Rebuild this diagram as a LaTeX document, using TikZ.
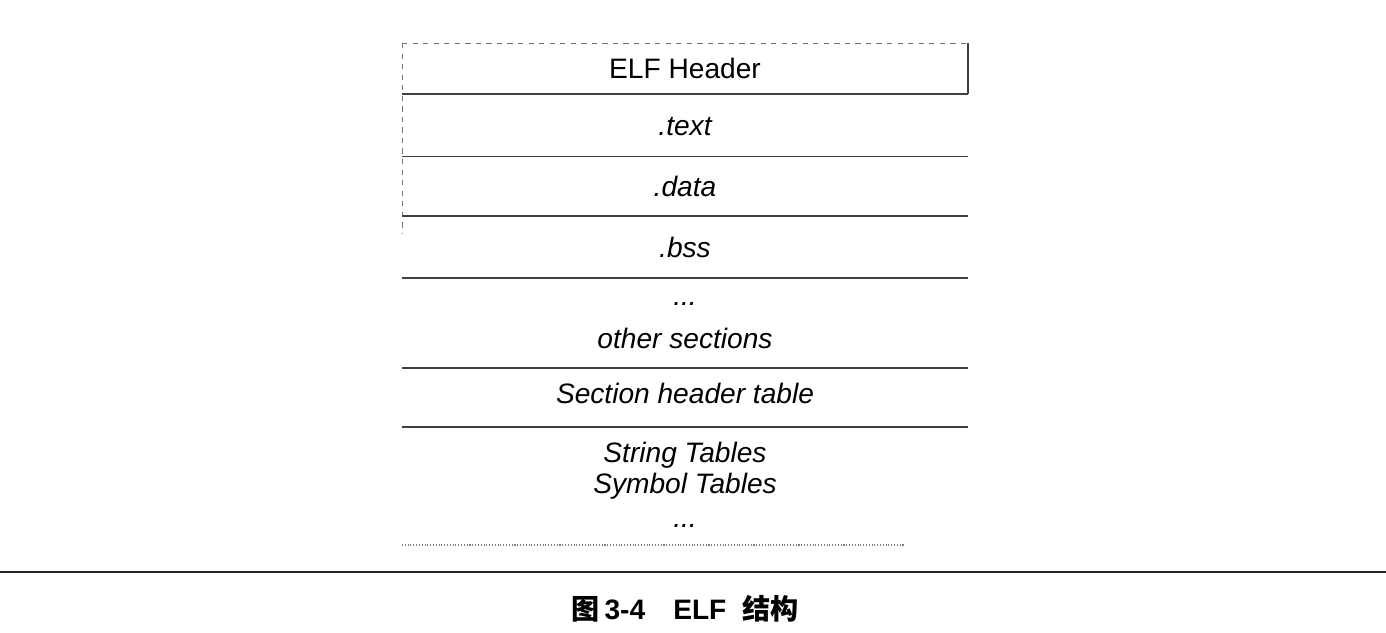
\documentclass[tikz,border=0pt]{standalone}
\usepackage{fontspec}
\setmainfont{Liberation Sans}
\newfontfamily\cjk{Noto Sans CJK SC}
\usepackage{tikz}
\usepackage{xcolor}
\usetikzlibrary{calc}

\begin{document}
\begin{tikzpicture}[sec/.style={anchor=base, inner sep=0, font=\fontsize{16}{19}\selectfont\itshape},
	head/.style={anchor=base, inner sep=0, font=\fontsize{16}{19}\selectfont},
	sep/.style={draw=black!75, line width=0.6pt},
	faint/.style={draw=black!55, line width=0.5pt, dashed},
	rule/.style={draw=black!85, line width=1.6pt},
	figcaption/.style={anchor=base, inner sep=0, font=\fontsize{16}{19}\selectfont\bfseries}]

		\useasboundingbox (0,0) rectangle (27.72,-12.64);
		%layout corners
		\coordinate (tl) at (8.04,-0.86);
		\coordinate (tr) at (19.36,-0.86);
		%elf header
		\node[head] at (13.7,-1.56) (elfhdr) {ELF Header};
		\draw[faint] (tl) -- (tr);
		\draw[sep] (tr) -- ++(0,-1.02) coordinate (hr);
		\draw[sep] (hr) -- (hr -| tl);
		\draw[faint] (tl) -- ++(0,-3.8);
		%sections
		\node[sec] at (13.7,-2.70) (text) {.text};
		\node[sec] at (13.7,-3.92) (data) {.data};
		\node[sec] at (13.7,-5.14) (bss) {.bss};
		\node[sec] at (13.7,-6.10) (dots1) {...};
		\node[sec] at (13.7,-6.96) (other) {other sections};
		\node[sec] at (13.7,-8.06) (shtab) {Section header table};
		\node[sec] at (13.7,-9.24) (strtab) {String Tables};
		\node[sec] at (13.7,-9.86) (symtab) {Symbol Tables};
		\node[sec] at (13.7,-10.54) (dots2) {...};
		\foreach \y in {3.13,4.32,5.56,7.36,8.54} {
			\draw[sep] (8.04,-\y) -- (19.36,-\y);
		}
		\draw[draw=black!50, line width=0.6pt, densely dotted] (8.04,-10.90) -- (18.1,-10.90);
		%caption
		\draw[rule] (0,-11.44) -- (27.72,-11.44);
		\node[figcaption] at (13.7,-12.38) (figcap) {{\cjk 图}\,3-4\quad ELF\; {\cjk 结构}};
	\end{tikzpicture}
\end{document}
